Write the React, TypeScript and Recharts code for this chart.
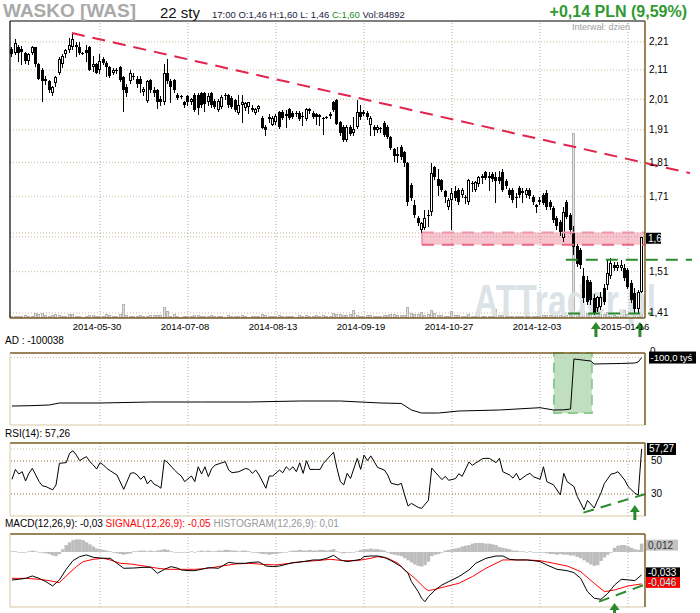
import React from 'react';
import { ComposedChart, Bar, Line, XAxis, YAxis, ReferenceLine, ReferenceArea, ReferenceDot } from 'recharts';

const FONT = '"Liberation Sans", Arial, Helvetica, sans-serif';

// ---------------- data ----------------
const dateTickIdx = [26, 52, 78, 104, 130, 156, 182];
const dateTickLabels = ['2014-05-30', '2014-07-08', '2014-08-13', '2014-09-19', '2014-10-27', '2014-12-03', '2015-01-16'];
const priceTicks = [1.41, 1.51, 1.61, 1.71, 1.81, 1.91, 2.01, 2.11, 2.21];
const lastClose = 1.6;

const openP = [
  2.185, 2.17, 2.19, 2.185, 2.17, 2.14, 2.17, 2.19, 2.13, 2.11,
  2.07, 2.07, 2.03, 2.065, 2.10, 2.13, 2.165, 2.18, 2.19, 2.20,
  2.19, 2.17, 2.18, 2.19, 2.12, 2.13, 2.11, 2.15, 2.135, 2.12,
  2.10, 2.11, 2.12, 2.085, 2.05, 2.07, 2.09, 2.08, 2.08, 2.035,
  2.005, 2.075, 2.04, 2.04, 2.01, 2.0, 2.10, 2.07, 2.075, 2.025,
  2.02, 2.0, 2.02, 2.0, 2.025, 2.025, 2.03, 2.03, 2.0, 2.03,
  2.005, 1.975, 1.985, 2.024, 2.024, 2.015, 2.008, 1.965, 1.99, 1.98,
  1.985, 1.98, 1.966, 1.976, 1.949, 1.92, 1.95, 1.927, 1.935, 1.968,
  1.968, 1.96, 1.978, 1.965, 1.965, 1.965, 1.955, 1.946, 1.97, 1.965,
  1.96, 1.958, 1.948, 1.952, 1.96, 2.0, 2.008, 1.936, 1.92, 1.877,
  1.92, 1.90, 1.92, 1.968, 1.968, 1.965, 1.927, 1.92, 1.911, 1.915,
  1.933, 1.92, 1.889, 1.85, 1.835, 1.857, 1.84, 1.808, 1.744, 1.687,
  1.651, 1.619, 1.624, 1.655, 1.668, 1.797, 1.76, 1.758, 1.725, 1.68,
  1.70, 1.725, 1.73, 1.715, 1.71, 1.696, 1.75, 1.73, 1.745, 1.765,
  1.78, 1.77, 1.775, 1.767, 1.767, 1.78, 1.755, 1.73, 1.73, 1.71,
  1.735, 1.725, 1.715, 1.73, 1.71, 1.68, 1.70, 1.715, 1.72, 1.695,
  1.679, 1.65, 1.64, 1.597, 1.696, 1.659, 1.611, 1.575, 1.566, 1.498,
  1.49, 1.485, 1.4465, 1.4226, 1.425, 1.47, 1.478, 1.498, 1.528, 1.52,
  1.52, 1.52, 1.515, 1.483, 1.458, 1.42, 1.46,
];
const highP = [
  2.19, 2.22, 2.20, 2.195, 2.175, 2.17, 2.195, 2.19, 2.135, 2.115,
  2.09, 2.075, 2.055, 2.09, 2.155, 2.165, 2.185, 2.225, 2.24, 2.21,
  2.21, 2.175, 2.20, 2.195, 2.16, 2.135, 2.165, 2.155, 2.14, 2.125,
  2.115, 2.115, 2.125, 2.09, 2.06, 2.11, 2.10, 2.09, 2.09, 2.05,
  2.075, 2.08, 2.05, 2.045, 2.02, 2.13, 2.15, 2.08, 2.08, 2.03,
  2.025, 2.005, 2.025, 2.015, 2.03, 2.03, 2.035, 2.035, 2.03, 2.035,
  2.01, 2.01, 2.025, 2.03, 2.028, 2.02, 2.01, 2.024, 2.024, 2.0,
  2.002, 1.99, 1.98, 1.99, 1.955, 1.925, 1.96, 1.955, 1.96, 1.97,
  1.975, 1.975, 1.98, 1.97, 1.97, 1.97, 1.968, 1.98, 1.98, 1.97,
  1.965, 1.962, 1.952, 1.955, 1.968, 2.004, 2.01, 1.94, 1.925, 1.925,
  1.925, 1.95, 2.008, 1.99, 1.975, 1.97, 1.955, 1.925, 1.925, 1.92,
  1.94, 1.925, 1.892, 1.854, 1.857, 1.862, 1.845, 1.81, 1.75, 1.70,
  1.655, 1.64, 1.673, 1.673, 1.808, 1.80, 1.79, 1.762, 1.73, 1.705,
  1.735, 1.74, 1.735, 1.735, 1.715, 1.762, 1.755, 1.755, 1.77, 1.775,
  1.785, 1.78, 1.78, 1.78, 1.785, 1.79, 1.76, 1.735, 1.735, 1.72,
  1.74, 1.735, 1.735, 1.735, 1.715, 1.69, 1.71, 1.72, 1.73, 1.70,
  1.685, 1.655, 1.645, 1.68, 1.70, 1.665, 1.63, 1.58, 1.57, 1.52,
  1.50, 1.49, 1.455, 1.45, 1.46, 1.48, 1.54, 1.545, 1.535, 1.535,
  1.54, 1.53, 1.52, 1.49, 1.47, 1.465, 1.60,
];
const lowP = [
  2.16, 2.165, 2.14, 2.13, 2.135, 2.13, 2.165, 2.125, 2.08, 2.005,
  2.06, 2.035, 2.025, 2.055, 2.095, 2.12, 2.155, 2.175, 2.185, 2.16,
  2.165, 2.165, 2.14, 2.11, 2.105, 2.10, 2.10, 2.13, 2.09, 2.085,
  2.095, 2.10, 2.07, 1.97, 2.02, 2.065, 2.08, 2.05, 2.035, 2.025,
  2.0, 2.035, 2.02, 1.98, 1.99, 1.995, 2.065, 2.0, 2.035, 2.01,
  2.015, 1.985, 1.99, 1.995, 1.97, 1.96, 1.985, 1.97, 1.99, 1.985,
  1.98, 1.97, 1.98, 2.01, 1.985, 1.98, 1.97, 1.962, 1.936, 1.975,
  1.965, 1.97, 1.962, 1.97, 1.915, 1.895, 1.936, 1.925, 1.93, 1.915,
  1.945, 1.92, 1.945, 1.948, 1.955, 1.943, 1.927, 1.943, 1.965, 1.948,
  1.93, 1.925, 1.898, 1.948, 1.948, 1.97, 1.928, 1.895, 1.875, 1.874,
  1.895, 1.895, 1.915, 1.945, 1.958, 1.945, 1.895, 1.895, 1.905, 1.905,
  1.89, 1.885, 1.85, 1.815, 1.81, 1.82, 1.80, 1.687, 1.70, 1.654,
  1.632, 1.613, 1.62, 1.628, 1.66, 1.76, 1.715, 1.725, 1.696, 1.675,
  1.62, 1.70, 1.69, 1.71, 1.693, 1.69, 1.725, 1.725, 1.74, 1.75,
  1.76, 1.73, 1.755, 1.695, 1.75, 1.725, 1.735, 1.71, 1.695, 1.68,
  1.71, 1.695, 1.71, 1.705, 1.69, 1.668, 1.69, 1.69, 1.675, 1.675,
  1.64, 1.62, 1.605, 1.59, 1.65, 1.61, 1.555, 1.525, 1.52, 1.437,
  1.43, 1.43, 1.408, 1.415, 1.42, 1.43, 1.466, 1.495, 1.515, 1.515,
  1.515, 1.49, 1.47, 1.437, 1.41, 1.41, 1.46,
];
const closeP = [
  2.165, 2.205, 2.17, 2.175, 2.14, 2.165, 2.19, 2.13, 2.08, 2.07,
  2.08, 2.04, 2.05, 2.085, 2.15, 2.16, 2.18, 2.20, 2.22, 2.19,
  2.17, 2.17, 2.17, 2.11, 2.13, 2.10, 2.14, 2.135, 2.12, 2.09,
  2.11, 2.11, 2.075, 2.04, 2.03, 2.10, 2.085, 2.06, 2.06, 2.045,
  2.07, 2.04, 2.03, 2.0, 2.0, 2.10, 2.07, 2.05, 2.04, 2.015,
  2.02, 1.99, 2.0, 2.01, 1.975, 1.98, 1.99, 1.995, 2.02, 1.99,
  1.985, 2.005, 2.0175, 2.02, 1.99, 1.985, 1.975, 1.99, 2.0, 1.998,
  2.0, 1.975, 1.978, 1.988, 1.917, 1.911, 1.945, 1.949, 1.955, 1.92,
  1.949, 1.955, 1.949, 1.952, 1.96, 1.946, 1.95, 1.978, 1.978, 1.95,
  1.95, 1.95, 1.945, 1.952, 1.955, 1.975, 1.93, 1.90, 1.88, 1.92,
  1.898, 1.913, 1.968, 1.952, 1.962, 1.95, 1.949, 1.911, 1.92, 1.912,
  1.895, 1.889, 1.854, 1.83, 1.83, 1.825, 1.808, 1.695, 1.707, 1.659,
  1.637, 1.637, 1.651, 1.66, 1.779, 1.767, 1.74, 1.73, 1.71, 1.70,
  1.72, 1.707, 1.696, 1.73, 1.705, 1.758, 1.745, 1.752, 1.767, 1.77,
  1.765, 1.765, 1.76, 1.755, 1.755, 1.73, 1.74, 1.715, 1.70, 1.705,
  1.715, 1.72, 1.73, 1.712, 1.696, 1.687, 1.696, 1.693, 1.68, 1.68,
  1.646, 1.63, 1.613, 1.668, 1.654, 1.619, 1.574, 1.53, 1.528, 1.4465,
  1.437, 1.44, 1.411, 1.448, 1.448, 1.437, 1.507, 1.533, 1.52, 1.528,
  1.528, 1.495, 1.473, 1.4416, 1.42, 1.46, 1.60,
];
const volume = [
  26000, 20000, 30000, 22000, 35000, 28000, 24000, 60000, 55000, 65000,
  40000, 30000, 45000, 52000, 38000, 30000, 25000, 48000, 52000, 30000,
  22000, 18000, 26000, 40000, 35000, 30000, 20000, 28000, 50000, 45000,
  25000, 22000, 48000, 180000, 40000, 30000, 24000, 20000, 35000, 28000,
  30000, 36000, 40000, 45000, 38000, 145000, 90000, 30000, 55000, 24000,
  18000, 25000, 30000, 20000, 38000, 42000, 30000, 26000, 20000, 34000,
  28000, 22000, 30000, 18000, 40000, 25000, 30000, 28000, 45000, 20000,
  18000, 26000, 22000, 30000, 55000, 38000, 22000, 30000, 26000, 40000,
  24000, 30000, 20000, 25000, 18000, 35000, 30000, 42000, 26000, 30000,
  34000, 22000, 45000, 20000, 30000, 65000, 48000, 52000, 40000, 36000,
  55000, 105000, 42000, 30000, 26000, 34000, 38000, 30000, 22000, 20000,
  40000, 35000, 48000, 52000, 40000, 38000, 45000, 145000, 60000, 55000,
  48000, 80000, 40000, 52000, 105000, 60000, 45000, 38000, 30000, 26000,
  90000, 35000, 40000, 28000, 24000, 48000, 30000, 26000, 75000, 30000,
  25000, 30000, 28000, 115000, 40000, 35000, 30000, 28000, 32000, 26000,
  30000, 22000, 20000, 28000, 26000, 30000, 24000, 34000, 40000, 36000,
  45000, 48000, 40000, 60000, 42000, 50000, 2400000, 60000, 52000, 85000,
  70000, 60000, 95000, 155000, 60000, 55000, 80000, 50000, 35000, 30000,
  40000, 100000, 55000, 60000, 70000, 58000, 84892,
];
const histogram = [
  0.001, 0.001, 0, -0.001, 0, 0.001, 0.002, 0.001, 0, -0.001,
  -0.002, -0.003, -0.005, -0.006, -0.003, 0.004, 0.010, 0.014, 0.017, 0.018,
  0.018, 0.017, 0.014, 0.011, 0.008, 0.005, 0.004, 0.003, 0.002, 0.001,
  -0.001, -0.002, -0.003, -0.004, -0.003, -0.002, 0.001, 0.001, 0.002, 0.002,
  0.001, 0.002, 0.001, 0.002, 0.003, 0.004, 0.003, 0.001, 0, -0.001,
  -0.001, 0, -0.001, 0.001, 0, 0.001, 0.002, 0.001, 0.002, 0.001,
  0.001, 0.002, 0.002, 0.003, 0.003, 0.002, 0.002, 0.001, 0.002, 0.002,
  0.001, 0, -0.001, -0.002, -0.003, -0.003, -0.004, -0.003, -0.003, -0.002,
  -0.001, 0, 0.001, 0.002, 0.002, 0.003, 0.002, 0.002, 0.003, 0.002,
  0.002, 0.003, 0.003, 0.002, 0.003, 0.004, 0.001, -0.001, -0.002, -0.001,
  -0.001, 0, 0.001, 0.003, 0.004, 0.004, 0.005, 0.004, 0.004, 0.003,
  0.002, -0.001, -0.003, -0.004, -0.005, -0.006, -0.009, -0.012, -0.015, -0.018,
  -0.020, -0.021, -0.019, -0.014, -0.006, -0.004, -0.003, -0.001, 0.002, 0.003,
  0.004, 0.005, 0.006, 0.008, 0.009, 0.010, 0.012, 0.013, 0.013, 0.013,
  0.012, 0.012, 0.011, 0.010, 0.007, 0.006, 0.005, 0.004, 0.002, 0.002,
  0.001, 0.001, 0, 0.001, 0, -0.001, 0, -0.001, -0.002, -0.003,
  -0.003, -0.004, -0.003, -0.004, -0.004, -0.005, -0.005, -0.007, -0.009, -0.012,
  -0.015, -0.018, -0.020, -0.019, -0.013, -0.008, -0.004, -0.001, 0.006, 0.009,
  0.010, 0.010, 0.008, 0.006, 0.004, 0.003, 0.012,
];
const rsiPoints = [
  [0, 38.9], [1, 44.9], [2, 42.1], [3, 43.5], [4, 37.9], [5, 42.6], [6, 45.5], [8, 37.5], [9, 34.9], [10, 34.5],
  [12, 32.5], [13, 35.5], [14, 48.6], [16, 49.0], [17, 54.7], [18, 56.2], [19, 53.6], [20, 50.2], [21, 51.6], [22, 52.6],
  [23, 49.6], [24, 47.6], [25, 45.1], [26, 49.0], [27, 47.6], [28, 45.5], [29, 44.1], [31, 41.5], [33, 32.8], [35, 42.5],
  [36, 42.9], [37, 41.5], [38, 38.9], [39, 40.9], [40, 36.1], [41, 38.5], [42, 35.9], [43, 35.0], [44, 33.5], [45, 50.6],
  [46, 49.0], [48, 44.5], [49, 42.5], [50, 40.9], [51, 37.5], [53, 40.9], [54, 37.5], [55, 46.5], [56, 42.1], [57, 46.5],
  [58, 40.5], [59, 45.5], [60, 47.5], [62, 48.9], [63, 49.6], [64, 44.5], [65, 42.9], [67, 43.5], [69, 45.5], [70, 44.9],
  [71, 42.5], [72, 44.5], [73, 41.5], [75, 33.5], [76, 40.9], [77, 40.9], [79, 44.5], [80, 42.9], [81, 46.5], [82, 44.5],
  [83, 46.5], [84, 43.5], [85, 48.9], [86, 42.5], [87, 50.2], [88, 44.9], [90, 44.9], [91, 44.9], [92, 48.6], [94, 53.1],
  [95, 55.3], [96, 45.5], [97, 37.5], [98, 35.5], [99, 42.5], [100, 39.4], [102, 51.6], [103, 44.9], [104, 53.6], [105, 50.2],
  [106, 53.1], [107, 49.6], [108, 46.1], [110, 44.5], [111, 41.5], [112, 36.5], [114, 35.5], [115, 36.5], [116, 29.4], [117, 22.7],
  [118, 24.3], [120, 21.9], [121, 21.3], [123, 26.1], [124, 45.7], [125, 43.3], [127, 38.7], [128, 40.7], [129, 38.3], [131, 39.3],
  [132, 42.3], [133, 40.7], [135, 49.4], [136, 47.4], [137, 48.8], [139, 51.4], [140, 51.6], [141, 51.6], [143, 49.0], [144, 51.6],
  [145, 43.5], [147, 41.5], [148, 39.6], [149, 42.5], [150, 38.5], [152, 41.5], [153, 42.5], [154, 40.5], [156, 38.9], [157, 46.5],
  [158, 37.5], [160, 35.5], [162, 29.4], [163, 42.5], [164, 37.5], [166, 34.5], [167, 28.5], [169, 20.4], [170, 26.1], [172, 21.5],
  [173, 26.3], [174, 30.7], [175, 36.4], [177, 42.1], [178, 42.5], [179, 43.5], [181, 38.5], [182, 34.5], [184, 30.5], [185, 29.4],
  [186, 57.27],
];
const macdPoints = [
  [0, -0.0403], [2, -0.0394], [4, -0.0380], [6, -0.0346], [8, -0.0380], [10, -0.0427], [12, -0.0490], [14, -0.0403], [16, -0.0250], [18, -0.0125],
  [20, -0.0067], [22, -0.0043], [24, -0.0077], [27, -0.0091], [29, -0.0091], [31, -0.0163], [33, -0.0235], [36, -0.0231], [39, -0.0221], [41, -0.0221],
  [43, -0.0307], [45, -0.0250], [47, -0.0211], [49, -0.0235], [50, -0.0259], [52, -0.0269], [54, -0.0269], [56, -0.0250], [58, -0.0226], [61, -0.0235],
  [64, -0.0149], [66, -0.0163], [69, -0.0163], [71, -0.0149], [73, -0.0144], [75, -0.0202], [77, -0.0211], [79, -0.0202], [81, -0.0178], [83, -0.0154],
  [86, -0.0139], [89, -0.0115], [91, -0.0115], [93, -0.0091], [95, -0.0048], [97, -0.0115], [99, -0.0139], [102, -0.0115], [103, -0.0106], [104, -0.0067],
  [106, -0.0058], [108, -0.0058], [110, -0.0077], [112, -0.0125], [115, -0.0211], [117, -0.0307], [118, -0.0427], [120, -0.0572], [121, -0.0667], [122, -0.0716],
  [123, -0.0644], [125, -0.0548], [127, -0.0476], [129, -0.0427], [132, -0.0355], [135, -0.0259], [137, -0.0163], [140, -0.0091], [143, -0.0058], [145, -0.0058],
  [147, -0.0106], [149, -0.0115], [152, -0.0115], [154, -0.0125], [156, -0.0139], [158, -0.0187], [161, -0.0250], [164, -0.0269], [166, -0.0298], [168, -0.0380],
  [170, -0.0572], [172, -0.0667], [174, -0.0682], [176, -0.0596], [178, -0.0476], [180, -0.0394], [182, -0.0403], [184, -0.0413], [186, -0.033],
];
const signalPoints = [
  [0, -0.0380], [4, -0.0380], [8, -0.0394], [11, -0.0413], [14, -0.0442], [16, -0.0346], [19, -0.0211], [21, -0.0139], [24, -0.0106], [27, -0.0091],
  [29, -0.0115], [32, -0.0163], [35, -0.0173], [39, -0.0202], [43, -0.0235], [46, -0.0250], [50, -0.0250], [54, -0.0250], [58, -0.0235], [62, -0.0202],
  [66, -0.0173], [70, -0.0163], [74, -0.0178], [78, -0.0187], [82, -0.0163], [86, -0.0139], [90, -0.0125], [94, -0.0106], [98, -0.0125], [102, -0.0125],
  [106, -0.0091], [108, -0.0067], [111, -0.0091], [114, -0.0163], [116, -0.0259], [119, -0.0380], [122, -0.0524], [123, -0.0557], [125, -0.0538], [128, -0.0500],
  [132, -0.0451], [136, -0.0355], [140, -0.0235], [143, -0.0163], [145, -0.0115], [148, -0.0115], [152, -0.0115], [156, -0.0125], [160, -0.0163], [164, -0.0202],
  [168, -0.0283], [172, -0.0451], [175, -0.0572], [178, -0.0548], [182, -0.0490], [186, -0.046],
];
const adPoints = [
  [0, -1166], [5, -1160], [11, -1144], [14, -1100], [26, -1100], [41, -1078], [56, -1078], [70, -1078], [85, -1056], [97, -1056],
  [109, -1100], [115, -1110], [118, -1254], [121, -1320], [126, -1320], [132, -1276], [144, -1254], [156, -1203], [160, -1254], [163, -1250],
  [165, -1232], [166, -132], [171, -176], [172, -242], [180, -230], [184, -220], [185, -198], [186, -100],
];

// annotations (data coordinates: bar index / value)
const redTrend = [{ x: 17.7, y: 2.243 }, { x: 200.3, y: 1.778 }];
const zone = { x1: 121.1, x2: 187, y1: 1.579, y2: 1.611 };
const greenUpper = [{ x: 163.6, y: 1.54 }, { x: 200.9, y: 1.54 }];
const greenLower = [{ x: 164.3, y: 1.409 }, { x: 189, y: 1.409 }];
const priceArrows = [{ x: 172.5, y: 1.389 }, { x: 185.5, y: 1.389 }];
const rsiTrend = [{ x: 168.8, y: 18.7 }, { x: 188.5, y: 30.8 }];
const rsiArrow = { x: 184.0, y: 23.3 };
const macdTrend = [{ x: 173.4, y: -0.0716 }, { x: 188.5, y: -0.0442 }];
const macdArrow = { x: 178.0, y: -0.0735 };
const adZone = { x1: 160.1, x2: 171.3, y1: -1320, y2: 0 };

// ---------------- layout constants ----------------
const X_DOMAIN = [-0.6, 187];
const PRICE_DOMAIN = [1.3983, 2.2883];
const VOL_DOMAIN = [0, 3850000];
const AD_DOMAIN = [-1584, 0];
const RSI_DOMAIN = [16.67, 60.9];
const MACD_DOMAIN = [-0.0793, 0.0259];

const BROWN = '#7a5b22';
const LIGHT = '#d6c9a3';
const GRID_H = '#c8bc98';
const GRID_V = '#b2b2b2';
const GREEN = '#2b8a2b';

const candleData = openP.map((o, i) => ({
  i, o, h: highP[i], l: lowP[i], c: closeP[i],
  range: [lowP[i], highP[i]], vol: volume[i], hist: histogram[i],
}));
const rsiData = rsiPoints.map(([i, v]) => ({ i, v }));
const macdData = macdPoints.map(([i, v]) => ({ i, v }));
const signalData = signalPoints.map(([i, v]) => ({ i, v }));
const adData = adPoints.map(([i, v]) => ({ i, v }));
const adLast = adPoints[adPoints.length - 1][1];
const rsiLast = rsiPoints[rsiPoints.length - 1][1];
const macdLast = macdPoints[macdPoints.length - 1][1];
const signalLast = signalPoints[signalPoints.length - 1][1];
const histLast = histogram[histogram.length - 1];

const fmt = (v: number, d: number) => v.toFixed(d).replace('.', ',');

// ---------------- shapes ----------------
const Candle = (props: any) => {
  const { x, y, width, height, payload } = props;
  if (!payload || x == null) return null;
  const top = Math.min(y, y + height);
  const bot = Math.max(y, y + height);
  const { o, h, l, c } = payload;
  const lh = Math.log(h);
  const span = lh - Math.log(l);
  const toY = (v: number) => (span > 0 ? top + ((lh - Math.log(v)) / span) * (bot - top) : top);
  const px = Math.floor(x + width / 2);
  const y0 = Math.round(Math.min(toY(o), toY(c)));
  const y1 = Math.round(Math.max(toY(o), toY(c)));
  const up = c >= o;
  return (
    <g>
      <line x1={px + 0.5} x2={px + 0.5} y1={Math.round(top)} y2={Math.round(bot) + 1} stroke="#000" strokeWidth={1} />
      {up && y1 - y0 >= 2 ? (
        <rect x={px - 0.5} y={y0 + 0.5} width={2} height={y1 - y0 - 1} fill="#fff" stroke="#000" strokeWidth={1} />
      ) : (
        <rect x={px - 1} y={y0} width={3} height={Math.max(y1 - y0, 1)} fill="#000" />
      )}
    </g>
  );
};

const VolumeBar = (props: any) => {
  const { x, y, width, height } = props;
  if (x == null || !height) return null;
  const px = Math.floor(x + width / 2);
  const t = Math.round(y);
  const b = Math.round(y + height);
  return <rect x={px - 0.5} y={t + 0.5} width={2} height={Math.max(b - t - 1, 0.5)} fill="#e2e2e2" stroke="#b4b4b4" strokeWidth={1} />;
};

const HistBar = (props: any) => {
  const { x, y, width, height } = props;
  if (x == null) return null;
  const t = Math.min(y, y + height);
  const hh = Math.abs(height);
  return <rect x={x} y={t} width={width + 0.5} height={Math.max(hh, 0.6)} fill="#bdbdbd" />;
};

const UpArrow = (props: any) => {
  const { cx, cy } = props;
  if (cx == null) return null;
  return (
    <g>
      <polygon points={`${cx},${cy} ${cx - 5},${cy + 7} ${cx + 5},${cy + 7}`} fill={GREEN} />
      <rect x={cx - 1.5} y={cy + 6} width={3} height={9} fill={GREEN} />
    </g>
  );
};

// ---------------- ticks ----------------
const txt = { fontFamily: FONT, fontSize: 10 };

const PriceTick = (p: any) => {
  const v = p.payload.value;
  if (Math.abs(v - 1.61) < 1e-9) return null;
  if (Math.abs(v - lastClose) < 1e-9) {
    return (
      <g>
        <rect x={p.x + 1} y={p.y - 4} width={15} height={11} fill="#000" />
        <text x={p.x + 3} y={p.y + 5} {...txt} fill="#fff">{fmt(v, 1)}</text>
      </g>
    );
  }
  return <text x={p.x + 4} y={p.y + 3.5} {...txt} fill="#000">{fmt(v, 2)}</text>;
};

const DateTick = (p: any) => {
  const k = dateTickIdx.indexOf(p.payload.value);
  return (
    <text x={p.x - 3} y={p.y + 11.5} textAnchor="middle" fontFamily={FONT} fontSize={9.5} fill="#000">
      {dateTickLabels[k]}
    </text>
  );
};

const AdTick = (p: any) => {
  const v = p.payload.value;
  if (v === 0) return <text x={p.x + 5} y={p.y + 2} {...txt} fill="#000">0</text>;
  return (
    <g>
      <rect x={p.x + 4} y={p.y - 6} width={47} height={12} fill="#000" />
      <text x={p.x + 5.5} y={p.y + 3.5} fontFamily={FONT} fontSize={9.5} fill="#fff">{fmt(v, 1)} tyś</text>
    </g>
  );
};

const RsiTick = (p: any) => {
  const v = p.payload.value;
  if (Math.abs(v - rsiLast) < 1e-9) {
    return (
      <g>
        <rect x={p.x + 2} y={p.y - 6} width={29} height={12} fill="#000" />
        <text x={p.x + 4} y={p.y + 3.5} {...txt} fill="#fff">{fmt(v, 2)}</text>
      </g>
    );
  }
  return <text x={p.x + 6} y={p.y + 3.5} {...txt} fill="#000">{fmt(v, 0)}</text>;
};

const MacdTick = (p: any) => {
  const v = p.payload.value;
  let bg = '#000', fg = '#fff', yy = p.y;
  if (Math.abs(v - histLast) < 1e-9) { bg = '#c2c2c2'; fg = '#333'; yy = p.y + 1.5; }
  else if (Math.abs(v - signalLast) < 1e-9) { bg = '#ff0000'; fg = '#9ff'; yy = p.y - 1.5; }
  else { yy = p.y - 2; }
  return (
    <g>
      <rect x={p.x + 1} y={yy - 5.5} width={v < 0 ? 34 : 32} height={11} fill={bg} />
      <text x={p.x + 3} y={yy + 3.5} {...txt} fill={fg}>{fmt(v, 3)}</text>
    </g>
  );
};

// ---------------- helpers ----------------
const layer: React.CSSProperties = { position: 'absolute', left: 0, top: 0 };

const vGrid = (yAxisId?: any) =>
  dateTickIdx.map((t) => (
    <ReferenceLine key={'v' + t} x={t} yAxisId={yAxisId} stroke={GRID_V} strokeDasharray="1 2" />
  ));

const panelBorders = (dom: number[]) => [
  <ReferenceLine key="bt" y={dom[1]} stroke={BROWN} strokeWidth={1.5} />,
  <ReferenceLine key="bb" y={dom[0]} stroke={LIGHT} strokeWidth={1} />,
  <ReferenceLine key="bl" x={X_DOMAIN[0]} stroke={LIGHT} strokeWidth={1} />,
];

export default function App() {
  return (
    <div style={{ position: 'absolute', left: 0, top: 0, width: 700, height: 613, background: '#fff', overflow: 'hidden' }}>
      {/* main panel: grid + volume */}
      <div style={layer}>
        <ComposedChart width={700} height={613} data={candleData} margin={{ top: 21, right: 55, bottom: 295, left: 10 }}>
          <XAxis type="number" dataKey="i" domain={X_DOMAIN} allowDataOverflow hide />
          <YAxis yAxisId="p" scale="log" domain={PRICE_DOMAIN} allowDataOverflow hide />
          <YAxis yAxisId="v" domain={VOL_DOMAIN} allowDataOverflow hide />
          {priceTicks.map((t) => (
            <ReferenceLine key={'h' + t} yAxisId="p" y={t} stroke={GRID_H} strokeDasharray="1 2" />
          ))}
          <ReferenceLine yAxisId="p" y={lastClose} stroke={GRID_H} strokeDasharray="1 2" />
          {vGrid('p')}
          <Bar yAxisId="v" dataKey="vol" barSize={3} shape={VolumeBar} isAnimationActive={false} />
        </ComposedChart>
      </div>

      {/* watermark */}
      <svg width={700} height={613} style={{ ...layer, pointerEvents: 'none' }}>
        <text x={474} y={316} fontFamily={FONT} fontWeight="bold" fontSize={44} fill="#dbe3e7" textLength={182} lengthAdjust="spacingAndGlyphs">
          ATTrader.pl
        </text>
      </svg>

      {/* main panel: candles + annotations + axes */}
      <div style={layer}>
        <ComposedChart width={700} height={613} data={candleData} margin={{ top: 21, right: 0, bottom: 275, left: 10 }}>
          <XAxis type="number" dataKey="i" domain={X_DOMAIN} allowDataOverflow ticks={dateTickIdx} interval={0} height={20}
            tickLine={false} tickSize={0} tickMargin={0} axisLine={{ stroke: BROWN, strokeWidth: 1.5 }} tick={DateTick} />
          <YAxis orientation="right" scale="log" domain={PRICE_DOMAIN} allowDataOverflow ticks={[...priceTicks, lastClose]} interval={0}
            width={55} tickLine={false} tickSize={0} tickMargin={0} axisLine={{ stroke: BROWN, strokeWidth: 1.5 }} tick={PriceTick} />
          <ReferenceLine x={X_DOMAIN[0]} stroke="#000" strokeWidth={1.2} />
          <ReferenceLine y={PRICE_DOMAIN[1]} stroke="#000" strokeWidth={1.2} />
          <Bar dataKey="range" barSize={3} shape={Candle} isAnimationActive={false} />
          <ReferenceArea x1={zone.x1} x2={zone.x2} y1={zone.y1} y2={zone.y2} fill="#e8506e" fillOpacity={0.33} stroke="none" ifOverflow="visible" />
          <ReferenceLine segment={[{ x: zone.x1, y: zone.y2 }, { x: zone.x2, y: zone.y2 }]} stroke="#f095aa" strokeWidth={2} strokeDasharray="12 8" ifOverflow="visible" />
          <ReferenceLine segment={[{ x: zone.x1, y: zone.y1 }, { x: zone.x2, y: zone.y1 }]} stroke="#e86683" strokeWidth={2} strokeDasharray="12 8" ifOverflow="visible" />
          <ReferenceLine segment={[{ x: zone.x1, y: zone.y1 }, { x: zone.x1, y: zone.y2 }]} stroke="#e86683" strokeWidth={1} ifOverflow="visible" />
          <ReferenceLine segment={redTrend} stroke="#e2234c" strokeWidth={2} strokeDasharray="13 8" ifOverflow="visible" />
          <ReferenceLine segment={greenUpper} stroke={GREEN} strokeWidth={2} strokeDasharray="12 8" ifOverflow="visible" />
          <ReferenceLine segment={greenLower} stroke={GREEN} strokeWidth={2} strokeDasharray="12 8" ifOverflow="visible" />
          {priceArrows.map((a, k) => (
            <ReferenceDot key={'pa' + k} x={a.x} y={a.y} r={5} shape={UpArrow} ifOverflow="visible" />
          ))}
        </ComposedChart>
      </div>

      {/* AD panel */}
      <div style={layer}>
        <ComposedChart width={700} height={613} margin={{ top: 353, right: 0, bottom: 188, left: 10 }}>
          <XAxis type="number" dataKey="i" domain={X_DOMAIN} allowDataOverflow hide />
          <YAxis orientation="right" domain={AD_DOMAIN} allowDataOverflow ticks={[0, adLast]} interval={0} width={55}
            tickLine={false} tickSize={0} tickMargin={0} axisLine={{ stroke: BROWN, strokeWidth: 1.5 }} tick={AdTick} />
          {vGrid()}
          <ReferenceLine y={adLast} stroke={GRID_H} strokeDasharray="1 2" />
          <ReferenceArea x1={adZone.x1} x2={adZone.x2} y1={adZone.y1} y2={adZone.y2} fill="#b9dcb9" fillOpacity={0.9}
            stroke="#8ccc8c" strokeWidth={2} strokeDasharray="10 6" />
          <Line data={adData} dataKey="v" stroke="#000" strokeWidth={1} dot={false} type="linear" isAnimationActive={false} />
          {panelBorders(AD_DOMAIN)}
        </ComposedChart>
      </div>

      {/* RSI panel */}
      <div style={layer}>
        <ComposedChart width={700} height={613} margin={{ top: 443, right: 0, bottom: 97, left: 10 }}>
          <XAxis type="number" dataKey="i" domain={X_DOMAIN} allowDataOverflow hide />
          <YAxis orientation="right" domain={RSI_DOMAIN} allowDataOverflow ticks={[30, 50, rsiLast]} interval={0} width={55}
            tickLine={false} tickSize={0} tickMargin={0} axisLine={{ stroke: BROWN, strokeWidth: 1.5 }} tick={RsiTick} />
          {vGrid()}
          <ReferenceLine y={rsiLast} stroke={GRID_H} strokeDasharray="1 2" />
          <ReferenceLine y={50} stroke="#8a6a2e" strokeDasharray="1 2" />
          <ReferenceLine y={30} stroke="#8a6a2e" strokeDasharray="1 2" />
          <Line data={rsiData} dataKey="v" stroke="#000" strokeWidth={1} dot={false} type="linear" isAnimationActive={false} />
          <ReferenceLine segment={rsiTrend} stroke={GREEN} strokeWidth={2} strokeDasharray="11 7" ifOverflow="visible" />
          <ReferenceDot x={rsiArrow.x} y={rsiArrow.y} r={5} shape={UpArrow} ifOverflow="visible" />
          {panelBorders(RSI_DOMAIN)}
        </ComposedChart>
      </div>

      {/* MACD panel */}
      <div style={layer}>
        <ComposedChart width={700} height={613} data={candleData} margin={{ top: 534, right: 0, bottom: 6, left: 10 }}>
          <XAxis type="number" dataKey="i" domain={X_DOMAIN} allowDataOverflow hide />
          <YAxis orientation="right" domain={MACD_DOMAIN} allowDataOverflow ticks={[histLast, macdLast, signalLast]} interval={0} width={55}
            tickLine={false} tickSize={0} tickMargin={0} axisLine={{ stroke: BROWN, strokeWidth: 1.5 }} tick={MacdTick} />
          {vGrid()}
          <Bar dataKey="hist" barSize={3} shape={HistBar} isAnimationActive={false} />
          <Line data={signalData} dataKey="v" stroke="#ff0000" strokeWidth={1} dot={false} type="linear" isAnimationActive={false} />
          <Line data={macdData} dataKey="v" stroke="#000" strokeWidth={1} dot={false} type="linear" isAnimationActive={false} />
          <ReferenceLine segment={macdTrend} stroke={GREEN} strokeWidth={2} strokeDasharray="11 7" ifOverflow="visible" />
          <ReferenceDot x={macdArrow.x} y={macdArrow.y} r={5} shape={UpArrow} ifOverflow="visible" />
          {panelBorders(MACD_DOMAIN)}
        </ComposedChart>
      </div>

      {/* header & panel titles */}
      <svg width={700} height={613} style={{ ...layer, pointerEvents: 'none' }}>
        <text x={3} y={17} fontFamily={FONT} fontWeight="bold" fontSize={19} fill="#a9a9a9">WASKO [WAS]</text>
        <text x={160} y={18} fontFamily={FONT} fontSize={15} fill="#111">22 sty</text>
        <text x={212} y={17.5} fontFamily={FONT} fontSize={9.5}>
          <tspan fill="#1b1b40">17:00 O:1,46 H:1,60 L: 1,46 </tspan>
          <tspan fill="#1e8c1e">C:1,60</tspan>
          <tspan fill="#1b1b40"> Vol:84892</tspan>
        </text>
        <text x={687} y={17} textAnchor="end" fontFamily={FONT} fontWeight="bold" fontSize={16} fill="#2f9a2f">+0,14 PLN (9,59%)</text>
        <text x={572} y={30} fontFamily={FONT} fontSize={9} fill="#a0a0a0">Interwał: dzień</text>
        <text x={5} y={343.5} fontFamily={FONT} fontSize={10} fill="#000">AD : -100038</text>
        <text x={5} y={437} fontFamily={FONT} fontSize={10} fill="#000">RSI(14): 57,26</text>
        <text x={5} y={527} fontFamily={FONT} fontSize={10}>
          <tspan fill="#000">MACD(12,26,9): -0,03 </tspan>
          <tspan fill="#ff0000">SIGNAL(12,26,9): -0,05 </tspan>
          <tspan fill="#999">HISTOGRAM(12,26,9): 0,01</tspan>
        </text>
      </svg>
    </div>
  );
}
